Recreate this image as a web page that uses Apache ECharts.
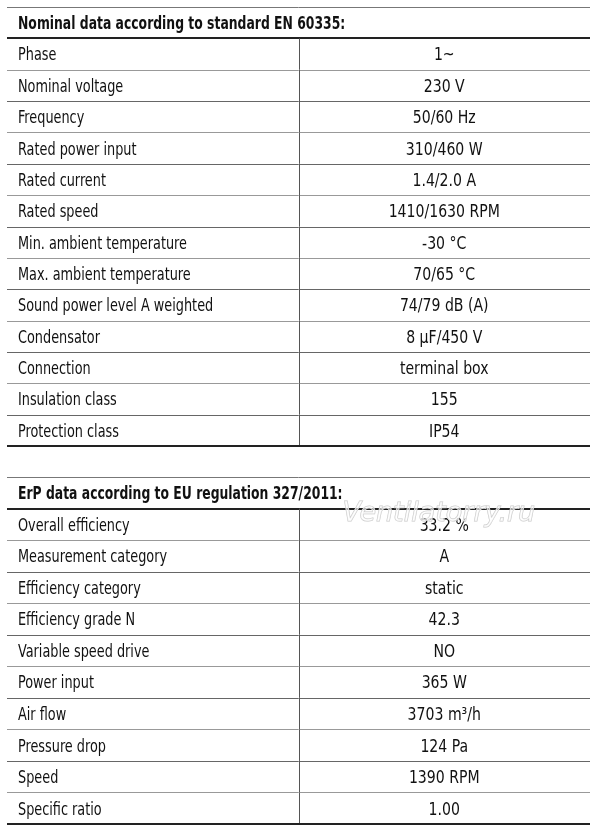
<!DOCTYPE html>
<html>
<head>
<meta charset="utf-8">
<script src="https://cdn.jsdelivr.net/npm/echarts@6/dist/echarts.min.js"></script>
<style>
html, body { margin: 0; padding: 0; background: #fff; }
#echart { width: 600px; height: 835px; }
</style>
</head>
<body>
<div id="echart"></div>
<script>
// Table content
var nominalTitle = 'Nominal data according to standard EN 60335:';
var nominalLabels = ['Phase', 'Nominal voltage', 'Frequency', 'Rated power input', 'Rated current',
	'Rated speed', 'Min. ambient temperature', 'Max. ambient temperature', 'Sound power level A weighted',
	'Condensator', 'Connection', 'Insulation class', 'Protection class'];
var nominalValues = ['1~', '230 V', '50/60 Hz', '310/460 W', '1.4/2.0 A',
	'1410/1630 RPM', '-30 °C', '70/65 °C', '74/79 dB (A)',
	'8 µF/450 V', 'terminal box', '155', 'IP54'];

var erpTitle = 'ErP data according to EU regulation 327/2011:';
var erpLabels = ['Overall efficiency', 'Measurement category', 'Efficiency category', 'Efficiency grade N',
	'Variable speed drive', 'Power input', 'Air flow', 'Pressure drop', 'Speed', 'Specific ratio'];
var erpValues = ['33.2 %', 'A', 'static', '42.3', 'NO', '365 W', '3703 m³/h', '124 Pa', '1390 RPM', '1.00'];

var watermark = 'Ventilatorry.ru';

var font = '"Liberation Sans Narrow", "DejaVu Sans Condensed", sans-serif';

var myChart = echarts.init(document.getElementById('echart'));

function crisp(y, w) {
	return w % 2 ? Math.round(y) + 0.5 : Math.round(y);
}

// text squeezed horizontally to look like the condensed face of the original
function squeezed(x, y, text, weight, sx, align) {
	return {
		type: 'text',
		x: x,
		y: y + 2,
		scaleX: sx,
		style: {
			x: 0, y: 0, text: text,
			font: weight + ' 17px ' + font,
			fill: '#111',
			textAlign: align || 'left',
			textVerticalAlign: 'middle'
		}
	};
}

function tableSeries(gridIndex, title, labels, values) {
	var rows = [title].concat(labels);
	var data = rows.map(function (r, i) { return [0, i]; });
	return {
		type: 'custom',
		xAxisIndex: gridIndex,
		yAxisIndex: gridIndex,
		silent: true,
		data: data,
		renderItem: function (params, api) {
			var i = params.dataIndex;
			var left = api.coord([0, i]);
			var right = api.coord([1, i]);
			var mid = api.coord([0.5, i]);
			var val = api.coord([0.75, i]);
			var h = api.size([0, 1])[1];
			var top = left[1] - h / 2;
			var bot = left[1] + h / 2;
			var children = [];
			if (i === 0) {
				var yt = crisp(top, 1);
				children.push({ type: 'line', shape: { x1: left[0], y1: yt, x2: right[0], y2: yt },
					style: { stroke: '#777', lineWidth: 1 } });
				children.push(squeezed(left[0] + 11, left[1], title, 'bold', 0.81));
				var yb = crisp(bot, 2);
				children.push({ type: 'line', shape: { x1: left[0], y1: yb, x2: right[0], y2: yb },
					style: { stroke: '#222', lineWidth: 2 } });
			} else {
				var last = i === rows.length - 1;
				var xm = crisp(mid[0], 1);
				children.push({ type: 'line', shape: { x1: xm, y1: top, x2: xm, y2: bot },
					style: { stroke: '#555', lineWidth: 1 } });
				children.push(squeezed(left[0] + 11, left[1], labels[i - 1], 'normal', 0.84));
				children.push(squeezed(val[0], left[1], values[i - 1], 'normal', 0.92, 'center'));
				var lw = last ? 2 : 1;
				var y2 = crisp(bot, lw);
				children.push({ type: 'line', shape: { x1: left[0], y1: y2, x2: right[0], y2: y2 },
					style: { stroke: last ? '#222' : (i % 2 ? '#999' : '#666'), lineWidth: lw } });
			}
			return { type: 'group', children: children };
		}
	};
}

function catAxis(gridIndex, n) {
	var cats = [];
	for (var k = 0; k < n; k++) cats.push(String(k));
	return { type: 'category', gridIndex: gridIndex, data: cats, inverse: true, show: false };
}

var option = {
	animation: false,
	grid: [
		{ left: 7, right: 10, top: 7, height: 439 },
		{ left: 7, right: 10, top: 477, height: 347 }
	],
	xAxis: [
		{ type: 'value', gridIndex: 0, min: 0, max: 1, show: false },
		{ type: 'value', gridIndex: 1, min: 0, max: 1, show: false }
	],
	yAxis: [
		catAxis(0, nominalLabels.length + 1),
		catAxis(1, erpLabels.length + 1)
	],
	graphic: [{
		type: 'text',
		left: 342,
		top: 500,
		z: 100,
		silent: true,
		style: {
			text: watermark,
			font: 'italic 27px "DejaVu Sans", sans-serif',
			fill: 'rgba(255,255,255,0.6)',
			stroke: '#c8c8c8',
			lineWidth: 1
		}
	}],
	series: [
		tableSeries(0, nominalTitle, nominalLabels, nominalValues),
		tableSeries(1, erpTitle, erpLabels, erpValues)
	]
};
myChart.setOption(option);
</script>
</body>
</html>
